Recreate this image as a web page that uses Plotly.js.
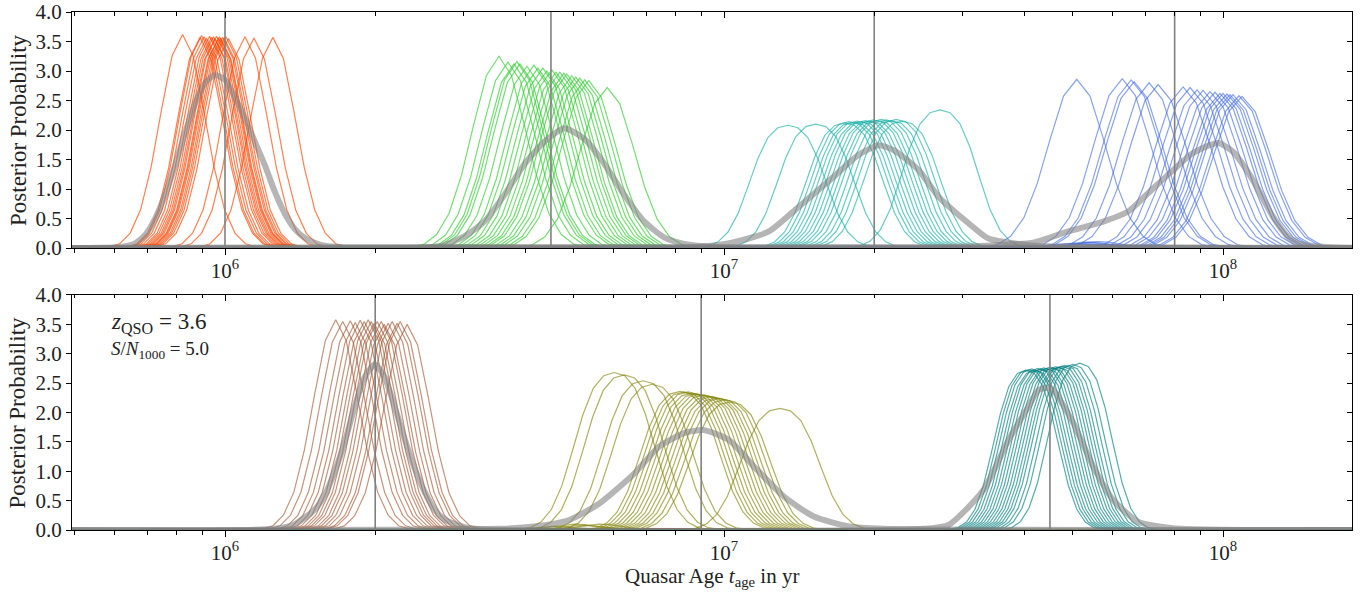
<!DOCTYPE html>
<html><head><meta charset="utf-8">
<script src="https://cdn.plot.ly/plotly-3.0.1.min.js"></script>
<style>html,body{margin:0;padding:0;background:#fff}</style>
</head><body><div id="chart" style="width:1369px;height:593px"></div>
<script>
// ---------------- data (log10 of quasar age in yr; posterior probability) ----------------
const GRID_MIN_LOG = 5.6;
const GRID_MAX_LOG = 8.3;
const TOP_TRUE_AGES = [1e6, 4.5e6, 2e7, 8e7];
const BOTTOM_TRUE_AGES = [2e6, 9e6, 4.5e7];

// normalised posterior shapes
const GAUSS_PROFILE = [0.005,0.02,0.07,0.18,0.38,0.65,0.9,1,0.9,0.65,0.38,0.18,0.07,0.02,0.005];
const FLAT_PROFILE = [0.004,0.015,0.05,0.13,0.28,0.5,0.73,0.9,0.98,1,0.98,0.9,0.73,0.5,0.28,0.13,0.05,0.015,0.004];

// top panel
const ORANGE_CENTERS_LOG = [5.915,5.950,5.953,5.958,5.963,5.969,5.973,5.977,5.980,5.983,5.987,5.989,5.991,5.995,5.998,6.002,6.007,6.040,6.058,6.096];
const ORANGE_PEAKS = [3.62,3.57,3.60,3.58,3.56,3.59,3.57,3.58,3.55,3.59,3.56,3.58,3.55,3.57,3.56,3.58,3.55,3.58,3.56,3.57];
const ORANGE_MEAN_LOG = [5.78,5.80,5.82,5.84,5.86,5.88,5.90,5.92,5.94,5.96,5.98,6.00,6.02,6.04,6.06,6.08,6.10,6.12,6.14,6.16,6.18,6.20,6.22,6.24];
const ORANGE_MEAN = [0.01,0.03,0.08,0.22,0.5,0.9,1.4,1.95,2.45,2.8,2.93,2.85,2.55,2.2,1.8,1.4,0.95,0.58,0.32,0.17,0.09,0.04,0.02,0.01];

const GREEN_CENTERS_LOG = [6.549,6.567,6.579,6.585,6.591,6.605,6.619,6.627,6.637,6.645,6.655,6.663,6.671,6.679,6.685,6.695,6.703,6.711,6.721,6.729,6.766];
const GREEN_PEAKS = [3.25,3.15,3.12,3.16,3.12,3.08,3.10,3.05,3.05,3.00,3.02,2.98,2.98,2.96,2.95,2.92,2.90,2.88,2.85,2.84,2.72];
const GREEN_MEAN_LOG = [6.40,6.44,6.48,6.52,6.56,6.60,6.64,6.68,6.72,6.76,6.80,6.84,6.88,6.92,6.96,7.00];
const GREEN_MEAN = [0.01,0.05,0.2,0.45,0.9,1.42,1.8,2.03,1.85,1.43,0.9,0.45,0.18,0.07,0.03,0.01];

const TEAL_TOP_CENTERS_LOG = [7.128,7.184,7.242,7.251,7.259,7.267,7.275,7.283,7.291,7.299,7.307,7.315,7.325,7.335,7.345,7.357,7.433];
const TEAL_TOP_PEAKS = [2.08,2.10,2.12,2.14,2.13,2.15,2.14,2.16,2.15,2.17,2.16,2.18,2.17,2.16,2.18,2.15,2.34];
const TEAL_TOP_MEAN_LOG = [6.90,6.95,7.02,7.09,7.15,7.22,7.27,7.31,7.34,7.39,7.43,7.49,7.53,7.59,7.65];
const TEAL_TOP_MEAN = [0.01,0.02,0.1,0.28,0.7,1.21,1.58,1.74,1.66,1.32,0.87,0.42,0.16,0.07,0.03];

const BLUE_CENTERS_LOG = [7.707,7.798,7.816,7.822,7.852,7.870,7.920,7.934,7.948,7.960,7.974,7.984,7.994,8.000,8.008,8.014,8.020,8.032,8.038];
const BLUE_PEAKS = [2.86,2.87,2.85,2.82,2.80,2.77,2.73,2.72,2.68,2.67,2.65,2.64,2.62,2.62,2.61,2.60,2.60,2.58,2.57];
const BLUE_BUMP_CENTERS_LOG = [7.70,7.72,7.73,7.75,7.76,7.74];
const BLUE_BUMP_PEAKS = [0.08,0.10,0.07,0.11,0.06,0.09];
const BLUE_MEAN_LOG = [7.40,7.50,7.55,7.62,7.69,7.75,7.81,7.85,7.90,7.94,7.99,8.02,8.06,8.10,8.13,8.15,8.20];
const BLUE_MEAN = [0.01,0.03,0.05,0.09,0.28,0.42,0.62,0.93,1.32,1.61,1.78,1.63,1.15,0.53,0.19,0.08,0.02];

// bottom panel
const SIENNA_CENTERS_LOG = [6.222,6.236,6.251,6.261,6.271,6.279,6.287,6.293,6.299,6.305,6.313,6.319,6.327,6.335,6.345,6.351,6.365];
const SIENNA_PEAKS = [3.58,3.55,3.56,3.53,3.57,3.55,3.58,3.55,3.52,3.55,3.55,3.50,3.52,3.55,3.52,3.55,3.50];
const SIENNA_MEAN_LOG = [6.10,6.14,6.18,6.20,6.22,6.24,6.26,6.28,6.30,6.32,6.34,6.36,6.38,6.40,6.42,6.44,6.48,6.52];
const SIENNA_MEAN = [0.02,0.1,0.35,0.6,1.0,1.5,2.1,2.6,2.82,2.6,2.1,1.55,1.05,0.65,0.35,0.18,0.05,0.01];

const OLIVE_CENTERS_LOG = [6.780,6.800,6.838,6.856,6.912,6.920,6.928,6.936,6.944,6.952,6.960,6.968,6.976,6.984,6.992,7.002,7.012,7.112];
const OLIVE_PEAKS = [2.68,2.64,2.54,2.48,2.36,2.35,2.35,2.33,2.32,2.31,2.30,2.28,2.27,2.25,2.24,2.22,2.18,2.07];
const OLIVE_BUMP_CENTERS_LOG = [6.66,6.70,6.72,6.75];
const OLIVE_BUMP_PEAKS = [0.06,0.10,0.08,0.10];
const OLIVE_MEAN_LOG = [6.55,6.62,6.69,6.75,6.82,6.87,6.92,6.96,7.01,7.06,7.12,7.18,7.25,7.32];
const OLIVE_MEAN = [0.02,0.06,0.17,0.45,0.96,1.42,1.65,1.70,1.53,1.08,0.57,0.23,0.06,0.02];

const TEAL_BOT_CENTERS_LOG = [7.605,7.611,7.617,7.623,7.629,7.635,7.641,7.647,7.653,7.659,7.665,7.671,7.677,7.683,7.691,7.699,7.713];
const TEAL_BOT_PEAKS = [2.72,2.73,2.74,2.72,2.75,2.74,2.76,2.75,2.77,2.76,2.78,2.77,2.79,2.80,2.80,2.82,2.84];
const TEAL_BOT_MEAN_LOG = [7.40,7.45,7.52,7.57,7.61,7.63,7.65,7.66,7.70,7.74,7.78,7.83,7.90];
const TEAL_BOT_MEAN = [0.02,0.085,0.68,1.53,2.10,2.38,2.42,2.38,1.82,1.08,0.51,0.14,0.03];

const X_TICK_VALS = [1e6, 1e7, 1e8];
const X_TICK_TEXT = ['10<sup>6</sup>', '10<sup>7</sup>', '10<sup>8</sup>'];
const Y_TICK_VALS = [0, 0.5, 1, 1.5, 2, 2.5, 3, 3.5, 4];
const Y_TICK_TEXT = ['0.0','0.5','1.0','1.5','2.0','2.5','3.0','3.5','4.0'];

// ---------------- building ----------------
const FONT = 'Liberation Serif, Times New Roman, serif';
const P = v => Math.pow(10, v);
const MINOR_VALS = [];
[5, 6, 7, 8].forEach(d => { for (let m = 2; m <= 9; m++) MINOR_VALS.push(m * P(d)); });

const traces = [];
function addCurves(centers, peaks, profile, step, color, xa, ya) {
  const h = (profile.length - 1) / 2;
  centers.forEach((c, k) => {
    const xs = [P(GRID_MIN_LOG)], ys = [0];
    profile.forEach((v, i) => { xs.push(P(c + (i - h) * step)); ys.push(peaks[k] * v); });
    xs.push(P(GRID_MAX_LOG)); ys.push(0);
    traces.push({x: xs, y: ys, xaxis: xa, yaxis: ya, mode: 'lines', hoverinfo: 'skip', showlegend: false,
      line: {color: color, width: 1.2}});
  });
}
function addBumps(centers, peaks, step, color, xa, ya) {
  const h = (GAUSS_PROFILE.length - 1) / 2;
  centers.forEach((c, k) => {
    const xs = [], ys = [];
    GAUSS_PROFILE.forEach((v, i) => { xs.push(P(c + (i - h) * step)); ys.push(peaks[k] * v); });
    traces.push({x: xs, y: ys, xaxis: xa, yaxis: ya, mode: 'lines', hoverinfo: 'skip', showlegend: false,
      line: {color: color, width: 1.2}});
  });
}
const means = [];
function addMean(logs, vals, xa, ya) {
  const xs = [P(GRID_MIN_LOG)].concat(logs.map(P), [P(GRID_MAX_LOG)]);
  const ys = [0].concat(vals, [0]);
  means.push({x: xs, y: ys, xaxis: xa, yaxis: ya, mode: 'lines', hoverinfo: 'skip', showlegend: false,
    line: {color: 'rgba(128,128,128,0.58)', width: 6, shape: 'spline', smoothing: 0.6}});
}
function addTrue(vals, xa, ya) {
  vals.forEach(v => traces.push({x: [v, v], y: [0, 4], xaxis: xa, yaxis: ya, mode: 'lines', hoverinfo: 'skip',
    showlegend: false, line: {color: 'rgb(128,128,128)', width: 1.6}}));
}

const C_ORANGE = 'rgba(255,69,0,0.68)', C_GREEN = 'rgba(50,205,50,0.68)', C_TEAL1 = 'rgba(32,178,170,0.68)',
      C_BLUE = 'rgba(65,105,225,0.62)', C_SIENNA = 'rgba(160,82,45,0.62)', C_OLIVE = 'rgba(128,128,0,0.62)',
      C_TEAL2 = 'rgba(0,128,128,0.66)';

addCurves(ORANGE_CENTERS_LOG, ORANGE_PEAKS, GAUSS_PROFILE, 0.021, C_ORANGE, 'x', 'y');
addCurves(GREEN_CENTERS_LOG, GREEN_PEAKS, GAUSS_PROFILE, 0.025, C_GREEN, 'x', 'y');
addCurves(TEAL_TOP_CENTERS_LOG, TEAL_TOP_PEAKS, FLAT_PROFILE, 0.02, C_TEAL1, 'x', 'y');
addCurves(BLUE_CENTERS_LOG, BLUE_PEAKS, GAUSS_PROFILE, 0.0265, C_BLUE, 'x', 'y');
addBumps(BLUE_BUMP_CENTERS_LOG, BLUE_BUMP_PEAKS, 0.02, C_BLUE, 'x', 'y');
addCurves(SIENNA_CENTERS_LOG, SIENNA_PEAKS, GAUSS_PROFILE, 0.021, C_SIENNA, 'x2', 'y2');
addCurves(OLIVE_CENTERS_LOG, OLIVE_PEAKS, FLAT_PROFILE, 0.021, C_OLIVE, 'x2', 'y2');
addBumps(OLIVE_BUMP_CENTERS_LOG, OLIVE_BUMP_PEAKS, 0.02, C_OLIVE, 'x2', 'y2');
addCurves(TEAL_BOT_CENTERS_LOG, TEAL_BOT_PEAKS, FLAT_PROFILE, 0.017, C_TEAL2, 'x2', 'y2');

addMean(ORANGE_MEAN_LOG, ORANGE_MEAN, 'x', 'y');
addMean(GREEN_MEAN_LOG, GREEN_MEAN, 'x', 'y');
addMean(TEAL_TOP_MEAN_LOG, TEAL_TOP_MEAN, 'x', 'y');
addMean(BLUE_MEAN_LOG, BLUE_MEAN, 'x', 'y');
addMean(SIENNA_MEAN_LOG, SIENNA_MEAN, 'x2', 'y2');
addMean(OLIVE_MEAN_LOG, OLIVE_MEAN, 'x2', 'y2');
addMean(TEAL_BOT_MEAN_LOG, TEAL_BOT_MEAN, 'x2', 'y2');
means.forEach(m => traces.push(m));

addTrue(TOP_TRUE_AGES, 'x', 'y');
addTrue(BOTTOM_TRUE_AGES, 'x2', 'y2');

// dummy traces so the mirrored (inward-tick) axes are drawn
traces.push({x: [], y: [], xaxis: 'x3', yaxis: 'y3', mode: 'lines', showlegend: false, hoverinfo: 'skip'});
traces.push({x: [], y: [], xaxis: 'x4', yaxis: 'y4', mode: 'lines', showlegend: false, hoverinfo: 'skip'});

const XR = [5.6934, 8.2585];
const tickFont = {family: FONT, size: 21, color: '#222'};
function xMain(anchor) {
  return {type: 'log', range: XR, anchor: anchor, tickmode: 'array', tickvals: X_TICK_VALS, ticktext: X_TICK_TEXT,
    ticks: 'outside', ticklen: 6, tickwidth: 1, tickcolor: '#000', showline: true, linecolor: '#000', linewidth: 1,
    mirror: true, showgrid: false, zeroline: false, tickfont: tickFont, fixedrange: true, ticklabelstandoff: -2,
    minor: {tickmode: 'array', tickvals: MINOR_VALS, ticks: 'outside', ticklen: 3.5, tickwidth: 1, tickcolor: '#000', showgrid: false}};
}
function xTop(over, anchor) {
  return {type: 'log', range: XR, overlaying: over, anchor: anchor, side: 'top', tickmode: 'array', tickvals: X_TICK_VALS,
    ticks: 'inside', ticklen: 6, tickwidth: 1, tickcolor: '#000', showticklabels: false, showline: false,
    showgrid: false, zeroline: false, fixedrange: true,
    minor: {tickmode: 'array', tickvals: MINOR_VALS, ticks: 'inside', ticklen: 3.5, tickwidth: 1, tickcolor: '#000', showgrid: false}};
}
function yMain(domain, anchor) {
  return {domain: domain, anchor: anchor, range: [0, 4], tickmode: 'array', tickvals: Y_TICK_VALS, ticktext: Y_TICK_TEXT,
    ticks: 'outside', ticklen: 5, tickwidth: 1, tickcolor: '#000', showline: true, linecolor: '#000', linewidth: 1,
    mirror: true, showgrid: false, zeroline: false, tickfont: tickFont, fixedrange: true};
}
function yRight(over, anchor) {
  return {range: [0, 4], overlaying: over, anchor: anchor, side: 'right', tickmode: 'array', tickvals: Y_TICK_VALS,
    ticks: 'inside', ticklen: 5, tickwidth: 1, tickcolor: '#000', showticklabels: false, showline: false,
    showgrid: false, zeroline: false, fixedrange: true};
}

const TOP_DOM = [0.5444, 1], BOT_DOM = [0, 0.4537];
const layout = {
  width: 1369, height: 593, margin: {l: 72, r: 17, t: 12, b: 63},
  paper_bgcolor: '#fff', plot_bgcolor: '#fff', showlegend: false,
  font: {family: FONT, color: '#222'},
  xaxis: xMain('y'), xaxis2: xMain('y2'), xaxis3: xTop('x', 'y'), xaxis4: xTop('x2', 'y2'),
  yaxis: yMain(TOP_DOM, 'x'), yaxis2: yMain(BOT_DOM, 'x2'), yaxis3: yRight('y', 'x'), yaxis4: yRight('y2', 'x2'),
  annotations: [
    {text: 'Posterior Probability', xref: 'paper', yref: 'paper', x: -0.0422, y: (TOP_DOM[0] + TOP_DOM[1]) / 2,
     textangle: -90, showarrow: false, xanchor: 'center', yanchor: 'middle', font: {family: FONT, size: 23, color: '#222'}},
    {text: 'Posterior Probability', xref: 'paper', yref: 'paper', x: -0.0422, y: (BOT_DOM[0] + BOT_DOM[1]) / 2,
     textangle: -90, showarrow: false, xanchor: 'center', yanchor: 'middle', font: {family: FONT, size: 23, color: '#222'}},
    {text: 'Quasar Age <i>t</i><sub>age</sub> in yr', xref: 'paper', yref: 'paper', x: 0.5, y: -0.119,
     showarrow: false, xanchor: 'center', yanchor: 'bottom', font: {family: FONT, size: 21, color: '#222'}},
    {text: '<i>z</i><sub>QSO</sub> = 3.6', xref: 'paper', yref: 'paper', x: 0.029, y: 0.3996,
     showarrow: false, xanchor: 'left', yanchor: 'middle', font: {family: FONT, size: 23, color: '#222'}},
    {text: '<i>S</i>/<i>N</i><sub>1000</sub> = 5.0', xref: 'paper', yref: 'paper', x: 0.029, y: 0.3475,
     showarrow: false, xanchor: 'left', yanchor: 'middle', font: {family: FONT, size: 19, color: '#222'}}
  ]
};

Plotly.newPlot('chart', traces, layout, {displayModeBar: false, staticPlot: true});
</script></body></html>
